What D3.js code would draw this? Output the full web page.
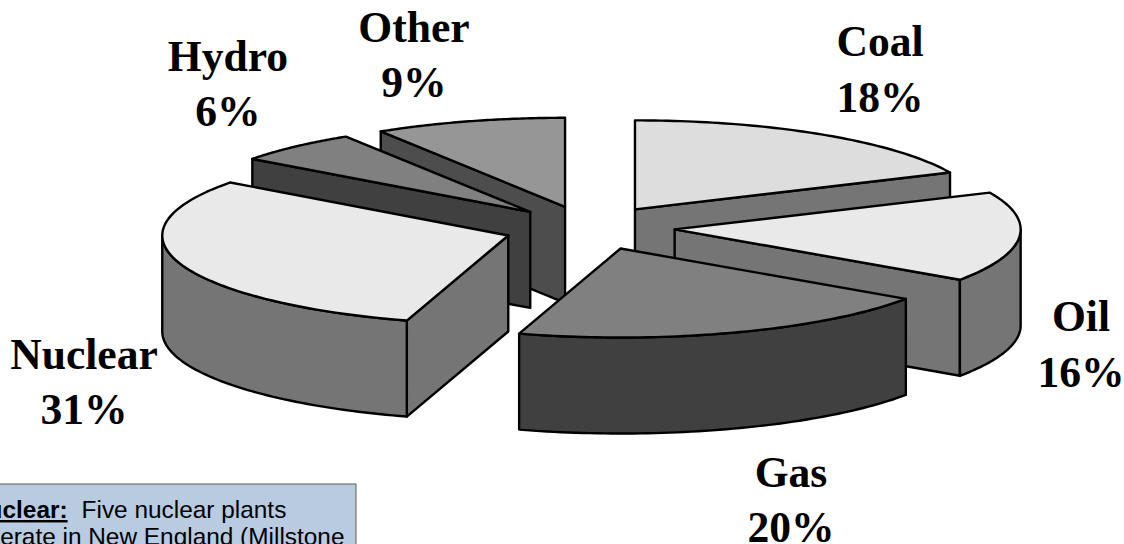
<!DOCTYPE html>
<html>
<head>
<meta charset="utf-8">
<script src="https://cdn.jsdelivr.net/npm/d3@7/dist/d3.min.js"></script>
<style>
  html, body { margin: 0; padding: 0; background: #fff; overflow: hidden; }
  svg { display: block; }
</style>
</head>
<body>
<svg id="chart" width="1124" height="544"></svg>
<script>
// Fuel mix, share of generation in percent
const fuels = ["Coal", "Oil", "Gas", "Nuclear", "Hydro", "Other"];
const shares = [18, 16, 20, 31, 6, 9];
const topColors = ["#dddddd", "#e9e9e9", "#808080", "#e9e9e9", "#808080", "#969696"];
const sideColors = ["#757575", "#757575", "#404040", "#757575", "#404040", "#4d4d4d"];
const labelX = [880, 1081, 791, 84, 228, 414];
const labelNameY = [56, 331, 487, 369, 71, 42];
const labelPctY = [112, 387, 542, 424, 126, 97];
const noteLines = ["operate in New England (Millstone"];

// Oblique projection of the unit disc onto the page
const cx = 589, cy = 228, rx = 346, ry = 89, depth = 96, explode = 0.248, warpAmount = 0.047;
const px = d3.scaleLinear().domain([-1, 1]).range([cx - rx, cx + rx]);
const py = d3.scaleLinear().domain([-1, 1]).range([cy - ry, cy + ry]);

const svg = d3.select("#chart");
const arcs = d3.pie().value(d => d).sort(null)(shares);

// Slight foreshortening of the view: the angles drift most at the front of the disc
const warp = a => a + warpAmount * (1 - Math.cos(a)) / 2;
const line = d3.line();
const pointAt = (a, k, ox, oy, drop = 0) =>
  [px(ox + k * Math.sin(warp(a))), py(oy - k * Math.cos(warp(a))) + drop];
const arcPoints = (a0, a1, ox, oy, drop = 0) =>
  d3.range(0, 61).map(i => pointAt(a0 + (a1 - a0) * i / 60, 1, ox, oy, drop));

// Painter's order: rear wedges first, front wedges last
const order = ["Other", "Hydro", "Coal", "Nuclear", "Oil", "Gas"].map(n => fuels.indexOf(n));
const wedges = svg.append("g")
  .attr("stroke", "#000").attr("stroke-width", 2.4).attr("stroke-linejoin", "round");

order.forEach(i => {
  const { startAngle: a0, endAngle: a1 } = arcs[i];
  const mid = (a0 + a1) / 2;
  const ox = explode * Math.sin(mid), oy = -explode * Math.cos(mid);
  const g = wedges.append("g").attr("class", "wedge").attr("data-fuel", fuels[i]);
  const apex = pointAt(0, 0, ox, oy);

  const wall = a => {
    const p = pointAt(a, 1, ox, oy);
    g.append("path").attr("fill", sideColors[i]).attr("d", line([
      apex, p, [p[0], p[1] + depth], [apex[0], apex[1] + depth]
    ]) + "Z");
  };
  // Radial walls are only visible when they face the viewer
  if (Math.sin(a0) < -1e-6) wall(a0);
  if (Math.sin(a1) > 1e-6) wall(a1);

  // Curved rim, limited to the front half of the disc
  const r0 = Math.max(a0, Math.PI / 2 - warpAmount / 2), r1 = Math.min(a1, 3 * Math.PI / 2 - warpAmount / 2);
  if (r1 > r0) {
    const topEdge = arcPoints(r0, r1, ox, oy);
    const lowEdge = arcPoints(r1, r0, ox, oy, depth);
    g.append("path").attr("fill", sideColors[i]).attr("d", line(topEdge.concat(lowEdge)) + "Z");
  }

  // Top face
  g.append("path").attr("fill", topColors[i])
    .attr("d", line([apex].concat(arcPoints(a0, a1, ox, oy))) + "Z");
});

// Wedge captions: fuel name above its share
const labels = svg.append("g")
  .attr("font-family", "'Liberation Serif', serif")
  .attr("font-weight", "bold").attr("font-size", 43.6)
  .attr("text-anchor", "middle").attr("fill", "#000");
fuels.forEach((f, i) => {
  labels.append("text").attr("x", labelX[i]).attr("y", labelNameY[i]).text(f);
  labels.append("text").attr("x", labelX[i]).attr("y", labelPctY[i]).text(shares[i] + "%");
});

// Explanatory note box, running off the lower-left of the page
const note = svg.append("g");
note.append("rect").attr("x", -10).attr("y", 484).attr("width", 366).attr("height", 80)
  .attr("fill", "#b9cbe0").attr("stroke", "#5a5a5a").attr("stroke-width", 1);
const noteText = note.append("g")
  .attr("font-family", "'Liberation Sans', Arial, sans-serif").attr("font-size", 24.4).attr("fill", "#000");
const first = noteText.append("text").attr("x", -30).attr("y", 518).attr("xml:space", "preserve");
first.append("tspan").attr("font-weight", "bold").attr("text-decoration", "underline").text("Nuclear:");
first.append("tspan").attr("dx", 14).text("Five nuclear plants");
noteText.selectAll(".rest").data(noteLines).join("text").attr("class", "rest")
  .attr("x", -27).attr("y", 545).text(d => d);
</script>
</body>
</html>
